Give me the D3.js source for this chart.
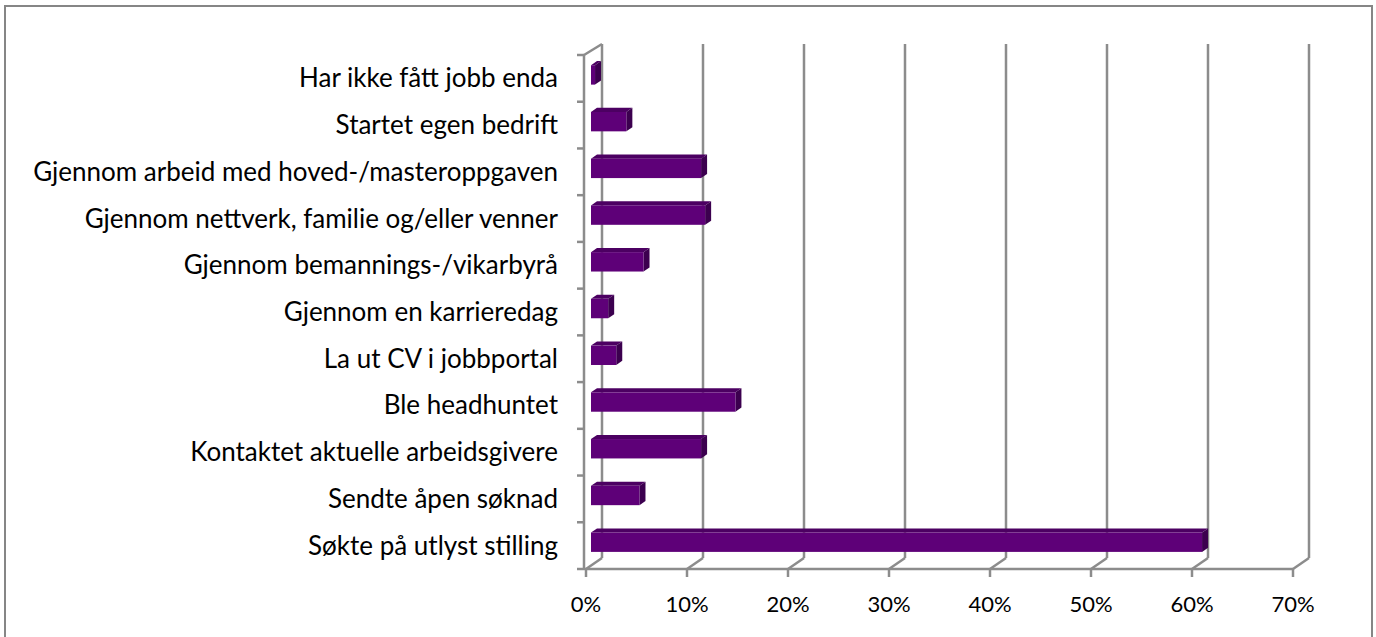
<!DOCTYPE html>
<html>
<head>
<meta charset="utf-8">
<script src="https://cdn.jsdelivr.net/npm/d3@7"></script>
<style>
  body { margin: 0; background: #fff; }
  svg text { font-family: Lato, "Open Sans", sans-serif; fill: #000; }
</style>
</head>
<body>
<div id="chart"></div>
<script>
/* data */
var categories = [
  "Har ikke fått jobb enda",
  "Startet egen bedrift",
  "Gjennom arbeid med hoved-/masteroppgaven",
  "Gjennom nettverk, familie og/eller venner",
  "Gjennom bemannings-/vikarbyrå",
  "Gjennom en karrieredag",
  "La ut CV i jobbportal",
  "Ble headhuntet",
  "Kontaktet aktuelle arbeidsgivere",
  "Sendte åpen søknad",
  "Søkte på utlyst stilling"
];
var shares = [0.004, 0.035, 0.109, 0.113, 0.052, 0.017, 0.025, 0.143, 0.109, 0.048, 0.605];
var xTicks = [0, 0.1, 0.2, 0.3, 0.4, 0.5, 0.6, 0.7];

/* setup */
var iWidth = 1376,
    iHeight = 637,
    depthX = 16,     // wall depth (oblique)
    depthY = -11,
    barOff = 5,      // bar front face offset into the depth
    barDepth = 6,
    gridColor = "#8c8c8c";

var yTop = 55, yBot = 569;

var x = d3.scaleLinear().domain([0, 0.7]).range([586, 1293]);
var y = d3.scaleBand().domain(categories).range([yTop, yBot])
    .paddingInner(0.585).paddingOuter(0.2925);
var yStep = y.step();

function bx(v) { return x(v) + barOff; }
function by(c) { return y(c) + depthY * barOff / depthX; }

var svg = d3.select("#chart").append("svg")
    .attr("width", iWidth)
    .attr("height", iHeight);

// outer frame (bottom edge runs off the picture)
svg.append("rect")
    .attr("x", 5).attr("y", 6)
    .attr("width", 1367).attr("height", 660)
    .attr("fill", "none")
    .attr("stroke", "#868686")
    .attr("stroke-width", 2);

var grid = svg.append("g")
    .attr("stroke", gridColor)
    .attr("stroke-width", 2.5)
    .attr("fill", "none");

// back wall gridlines + floor diagonals
xTicks.forEach(function (t) {
  grid.append("line")
      .attr("x1", x(t) + depthX).attr("x2", x(t) + depthX)
      .attr("y1", yTop + depthY).attr("y2", yBot + depthY);
  grid.append("line")
      .attr("x1", x(t)).attr("y1", yBot)
      .attr("x2", x(t) + depthX).attr("y2", yBot + depthY);
  grid.append("line")
      .attr("x1", x(t)).attr("x2", x(t))
      .attr("y1", yBot).attr("y2", yBot + 8);
});

// floor front edge
grid.append("line")
    .attr("x1", x(0) - 2).attr("x2", x(0.7))
    .attr("y1", yBot).attr("y2", yBot);

// side wall
grid.append("line")
    .attr("x1", x(0) - 2).attr("x2", x(0) - 2)
    .attr("y1", yTop).attr("y2", yBot);
grid.append("line")
    .attr("x1", x(0) - 2).attr("y1", yTop)
    .attr("x2", x(0) + depthX).attr("y2", yTop + depthY);

// category ticks
d3.range(categories.length + 1).forEach(function (i) {
  var yy = yTop + i * yStep;
  grid.append("line")
      .attr("x1", x(0) - 9).attr("x2", x(0) - 2)
      .attr("y1", yy).attr("y2", yy);
});

// bars
var dx = barDepth, dy = depthY * barDepth / depthX;
var bars = svg.selectAll(".bar")
    .data(categories.map(function (c, i) { return { cat: c, v: shares[i] }; }))
  .enter().append("g")
    .attr("class", "bar");

bars.append("path")   // top face
    .attr("fill", "#4c0062")
    .attr("d", function (d) {
      var x0 = bx(0), x1 = bx(d.v), y0 = by(d.cat);
      return "M" + x0 + "," + y0 + "L" + (x0 + dx) + "," + (y0 + dy) +
             "L" + (x1 + dx) + "," + (y0 + dy) + "L" + x1 + "," + y0 + "Z";
    });

bars.append("path")   // end face
    .attr("fill", "#3c004f")
    .attr("d", function (d) {
      var x1 = bx(d.v), y0 = by(d.cat), h = y.bandwidth();
      return "M" + x1 + "," + y0 + "L" + (x1 + dx) + "," + (y0 + dy) +
             "L" + (x1 + dx) + "," + (y0 + dy + h) + "L" + x1 + "," + (y0 + h) + "Z";
    });

bars.append("rect")   // front face
    .attr("fill", "#5e0078")
    .attr("x", function (d) { return bx(0); })
    .attr("y", function (d) { return by(d.cat); })
    .attr("width", function (d) { return bx(d.v) - bx(0); })
    .attr("height", y.bandwidth());

// category labels
svg.append("g").selectAll("text")
    .data(categories)
  .enter().append("text")
    .attr("x", 558)
    .attr("y", function (d) { return y(d) + y.bandwidth() / 2 - 1; })
    .attr("text-anchor", "end")
    .attr("dominant-baseline", "central")
    .style("font-size", "26px")
    .text(function (d) { return d; });

// value axis labels
svg.append("g").selectAll("text")
    .data(xTicks)
  .enter().append("text")
    .attr("x", function (d) { return x(d); })
    .attr("y", 612)
    .attr("text-anchor", "middle")
    .style("font-size", "22px")
    .text(d3.format(".0%"));
</script>
</body>
</html>
